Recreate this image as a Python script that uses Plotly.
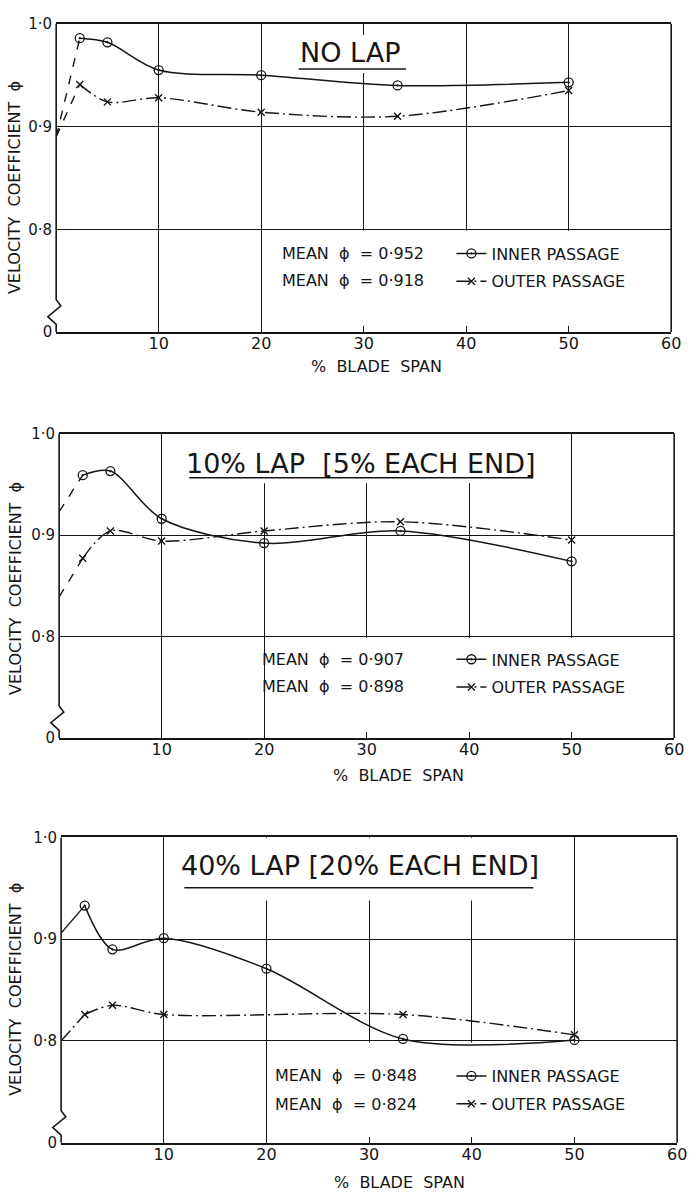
import plotly.graph_objects as go

# ---------------- data ----------------
span_pts = [2.3, 5, 10, 20, 33.3, 50]          # % blade span of the measuring stations
span_pts_40_outer = [2.3, 5, 10, 33.3, 50]

nolap_inner = [0.986, 0.982, 0.955, 0.950, 0.940, 0.943]
nolap_outer = [0.941, 0.924, 0.928, 0.914, 0.910, 0.935]
nolap_root = [0.890, 0.890]                     # extrapolated values at 0 % span (inner, outer)

lap10_inner = [0.959, 0.963, 0.916, 0.892, 0.904, 0.874]
lap10_outer = [0.877, 0.904, 0.894, 0.904, 0.913, 0.895]
lap10_root = [0.923, 0.839]

lap40_inner = [0.933, 0.890, 0.901, 0.871, 0.802, 0.801]
lap40_outer = [0.826, 0.835, 0.826, 0.826, 0.806]
lap40_root = [0.906, 0.800]

titles = ["NO LAP", "10% LAP  [5% EACH END]", "40% LAP [20% EACH END]"]
mean_inner = ["0·952", "0·907", "0·848"]
mean_outer = ["0·918", "0·898", "0·824"]
x_ticks = [10, 20, 30, 40, 50, 60]
y_ticks = [0.7, 0.8, 0.9, 1.0]
y_ticktext = ["0", "0·8", "0·9", "1·0"]

W, H = 695, 1201
FONT = "DejaVu Sans"
INK = "#161616"


def px(x):
    return x / W


def py(y):
    return 1 - y / H


# plot-area boxes in pixels: (left, right, top, bottom)
boxes = [(57, 681, 15, 328), (60, 684, 431, 740), (62, 687, 841, 1151)]

DASHDOT = "14px,4px,2px,4px"

panels = [
    dict(inner_x=span_pts, inner=nolap_inner, outer_x=span_pts, outer=nolap_outer,
         root=nolap_root, root_dash=("dash", "dash")),
    dict(inner_x=span_pts, inner=lap10_inner, outer_x=span_pts, outer=lap10_outer,
         root=lap10_root, root_dash=("dash", "dash")),
    dict(inner_x=span_pts, inner=lap40_inner, outer_x=span_pts_40_outer, outer=lap40_outer,
         root=lap40_root, root_dash=("solid", DASHDOT)),
]

fig = go.Figure()
layout = dict(width=W, height=H, margin=dict(l=0, r=0, t=0, b=0),
              paper_bgcolor="white", plot_bgcolor="white",
              font=dict(family=FONT, color=INK), showlegend=True)
shapes, annotations = [], []

# legend & text placement per panel (pixels)
legend_rows = [(248, 276), (660, 688), (1083, 1112)]
legend_x = 458
mean_right = [432, 412, 425]
title_pos = [(355, 44), (366, 461), (365, 870)]
underline = [(303, 412, 61), (192, 541, 476), (187, 541, 892)]
ytitle_y = [181, 588, 995]
xtitle_pos = [(382, 363), (404, 778), (405, 1191)]
# white areas that interrupt the grid (x0, x1, y0, y1) in data units
title_blank = [(22, 36, 0.952, 0.989), (12, 47.5, 0.951, 1.0), (11, 49, 0.938, 1.0)]

for i, p in enumerate(panels):
    k = "" if i == 0 else str(i + 1)
    xa, ya = "x" + k, "y" + k
    leg = "legend" + k
    l, r, t, b = boxes[i]

    # dashed / extrapolated part near the root
    fig.add_trace(go.Scatter(x=[0, p["inner_x"][0]], y=[p["root"][0], p["inner"][0]],
                             mode="lines", line=dict(color=INK, width=1.4, dash=p["root_dash"][0]),
                             xaxis=xa, yaxis=ya, showlegend=False, hoverinfo="skip"))
    fig.add_trace(go.Scatter(x=[0, p["outer_x"][0]], y=[p["root"][1], p["outer"][0]],
                             mode="lines", line=dict(color=INK, width=1.4, dash=p["root_dash"][1]),
                             xaxis=xa, yaxis=ya, showlegend=False, hoverinfo="skip"))
    # measured curves
    fig.add_trace(go.Scatter(x=p["inner_x"], y=p["inner"], mode="lines+markers",
                             name="INNER PASSAGE", legend=leg, legendgroup="in" + k,
                             line=dict(color=INK, width=1.5, shape="spline", smoothing=0.9),
                             marker=dict(symbol="circle-open-dot", size=9, color=INK,
                                         line=dict(width=1.3, color=INK)),
                             xaxis=xa, yaxis=ya))
    fig.add_trace(go.Scatter(x=p["outer_x"], y=p["outer"], mode="lines+markers",
                             name="OUTER PASSAGE", legend=leg, legendgroup="out" + k,
                             line=dict(color=INK, width=1.4, shape="spline", smoothing=0.9,
                                       dash=DASHDOT),
                             marker=dict(symbol="x-thin-open", size=7, color=INK,
                                         line=dict(width=1.4, color=INK)),
                             xaxis=xa, yaxis=ya))

    layout["xaxis" + k] = dict(domain=[px(l), px(r)], anchor=ya, range=[0, 60],
                               tickvals=x_ticks, ticks="inside", ticklen=6, tickcolor=INK,
                               tickwidth=1.2, showgrid=True, gridcolor=INK, gridwidth=1.1,
                               showline=True, linecolor=INK, linewidth=1.6, mirror=True,
                               zeroline=False, tickfont=dict(size=16, family=FONT, color=INK),
                               ticklabelstandoff=-4)
    layout["yaxis" + k] = dict(domain=[py(b), py(t)], anchor=xa, range=[0.7, 1.0],
                               tickvals=y_ticks, ticktext=y_ticktext, ticks="",
                               showgrid=True, gridcolor=INK, gridwidth=1.1,
                               showline=False, zeroline=False,
                               tickfont=dict(size=15, family=FONT, color=INK),
                               ticklabelstandoff=3)

    r1, r2 = legend_rows[i]
    layout[leg] = dict(x=px(legend_x), y=py(r1 - 17), xanchor="left", yanchor="top",
                       bgcolor="rgba(0,0,0,0)", font=dict(size=16, family=FONT, color=INK),
                       traceorder="grouped", tracegroupgap=4, itemwidth=30)

    # left border with the scale-break zigzag, and the right border
    shapes.append(dict(type="path", xref=xa + " domain", yref=ya + " domain",
                       path="M 0,1 L 0,0.105 L 0.0075,0.085 L -0.0135,0.050 L 0,0.025 L 0,0",
                       line=dict(color=INK, width=1.6), layer="above"))
    shapes.append(dict(type="line", xref=xa + " domain", yref=ya + " domain",
                       x0=1, x1=1, y0=0, y1=1, line=dict(color=INK, width=1.6), layer="above"))
    # blank areas behind the title and the key
    tx0, tx1, ty0, ty1 = title_blank[i]
    shapes.append(dict(type="rect", xref=xa, yref=ya, x0=tx0, x1=tx1, y0=ty0, y1=ty1,
                       fillcolor="white", line=dict(width=0), layer="between"))
    shapes.append(dict(type="rect", xref=xa, yref=ya, x0=20.25, x1=60, y0=0.7, y1=0.7985,
                       fillcolor="white", line=dict(width=0), layer="between"))
    # title underline
    u0, u1, uy = underline[i]
    shapes.append(dict(type="line", xref="paper", yref="paper", x0=px(u0), x1=px(u1),
                       y0=py(uy), y1=py(uy), line=dict(color=INK, width=1.5), layer="above"))

    # texts
    ttx, tty = title_pos[i]
    annotations.append(dict(text=titles[i], x=px(ttx), y=py(tty),
                            xref="paper", yref="paper", xanchor="center", yanchor="middle",
                            showarrow=False, font=dict(size=27, family=FONT, color=INK)))
    annotations.append(dict(text="MEAN  ϕ  = " + mean_inner[i], x=px(mean_right[i]), y=py(r1),
                            xref="paper", yref="paper", xanchor="right", yanchor="middle",
                            showarrow=False, font=dict(size=16, family=FONT, color=INK)))
    annotations.append(dict(text="MEAN  ϕ  = " + mean_outer[i], x=px(mean_right[i]), y=py(r2),
                            xref="paper", yref="paper", xanchor="right", yanchor="middle",
                            showarrow=False, font=dict(size=16, family=FONT, color=INK)))
    annotations.append(dict(text="VELOCITY  COEFFICIENT  ϕ", x=px(15), y=py(ytitle_y[i]),
                            xref="paper", yref="paper", xanchor="center", yanchor="middle",
                            textangle=-90, showarrow=False,
                            font=dict(size=16, family=FONT, color=INK)))
    xtx, xty = xtitle_pos[i]
    annotations.append(dict(text="%  BLADE  SPAN", x=px(xtx), y=py(xty),
                            xref="paper", yref="paper", xanchor="center", yanchor="middle",
                            showarrow=False, font=dict(size=16, family=FONT, color=INK)))

layout["shapes"] = shapes
layout["annotations"] = annotations
fig.update_layout(**layout)
fig.write_html("out.html")
